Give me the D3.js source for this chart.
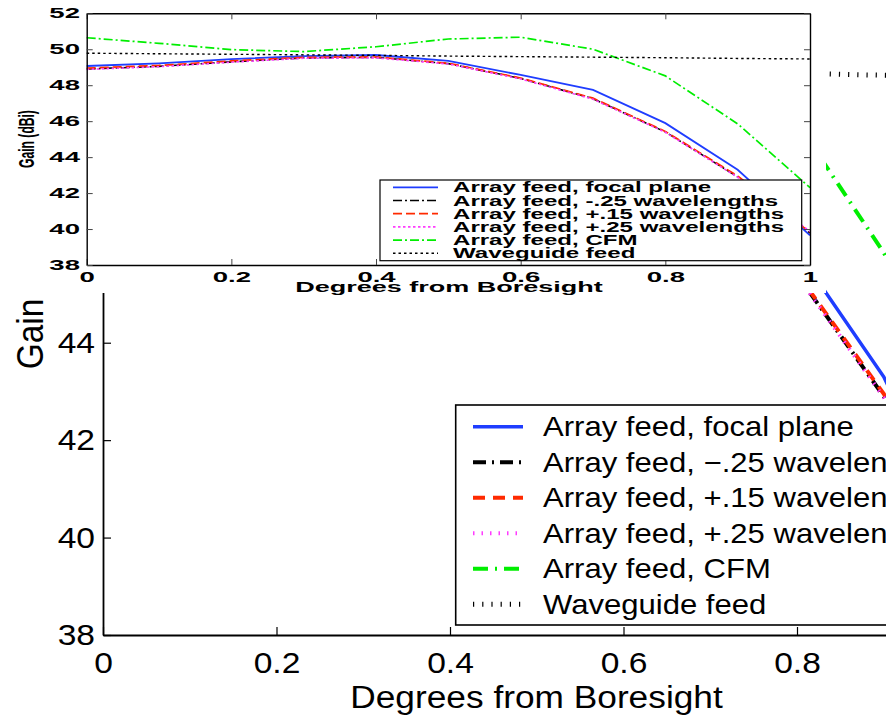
<!DOCTYPE html>
<html>
<head>
<meta charset="utf-8">
<script src="https://cdn.jsdelivr.net/npm/d3@7"></script>
<style>
  body { margin: 0; background: #fff; }
  svg { display: block; }
  text { font-family: "Liberation Sans", Arial, Helvetica, sans-serif; fill: #000; }
</style>
</head>
<body>
<svg id="chart" width="886" height="716"></svg>
<script>
// ---- data (gain in dBi vs degrees from boresight) ----
const DEGREES   = [0, 0.1, 0.2, 0.3, 0.4, 0.5, 0.6, 0.7, 0.8, 0.9, 1.0];
const FOCAL     = [49.07, 49.22, 49.45, 49.62, 49.68, 49.35, 48.57, 47.74, 45.89, 43.30, 39.65];
const MINUS_25  = [48.90, 49.05, 49.30, 49.52, 49.55, 49.20, 48.38, 47.25, 45.40, 42.90, 39.78];
const PLUS_15   = [48.95, 49.10, 49.35, 49.55, 49.57, 49.22, 48.40, 47.28, 45.43, 42.95, 39.82];
const PLUS_25   = [48.88, 49.03, 49.28, 49.50, 49.52, 49.18, 48.35, 47.22, 45.38, 42.88, 39.86];
const CFM       = [50.64, 50.33, 49.98, 49.87, 50.14, 50.57, 50.67, 50.00, 48.52, 45.85, 42.30];
const WAVEGUIDE = [49.78, 49.75, 49.72, 49.69, 49.66, 49.62, 49.59, 49.56, 49.53, 49.49, 49.46];

const LABELS_INSET = ['Array feed, focal plane', 'Array feed, -.25 wavelengths', 'Array feed, +.15 wavelengths',
                      'Array feed, +.25 wavelengths', 'Array feed, CFM', 'Waveguide feed'];
const LABELS_BIG   = ['Array feed, focal plane', 'Array feed, \u2212.25 wavelengths', 'Array feed, +.15 wavelengths',
                      'Array feed, +.25 wavelengths', 'Array feed, CFM', 'Waveguide feed'];
const X_TICKS = [0, 0.2, 0.4, 0.6, 0.8, 1];
const Y_TICKS = [38, 40, 42, 44, 46, 48, 50, 52];
// the big plot is cropped: only these tick labels show
const X_TICKS_BIG = [0, 0.2, 0.4, 0.6, 0.8];
const Y_TICKS_BIG = [38, 40, 42, 44];

const SERIES = [FOCAL, MINUS_25, PLUS_15, PLUS_25, CFM, WAVEGUIDE];

// line styles, same order as SERIES
const COLORS = ['#1f3dff', '#000000', '#ff2a00', '#ff3cff', '#00ee00', '#000000'];
const STYLE_BIG = [
  {w: 3.5, dash: null},
  {w: 4,   dash: '13,6,2,6'},
  {w: 4,   dash: '12,8'},
  {w: 4,   dash: '1.5,7'},
  {w: 4,   dash: '15,7,2,7'},
  {w: 5,   dash: '1.2,8'}
];
const STYLE_INSET = [
  {w: 1.8, dash: null},
  {w: 1.6, dash: '9,3,2,3'},
  {w: 1.7, dash: '9,4'},
  {w: 1.6, dash: '2.5,2.5'},
  {w: 1.7, dash: '9,3,2,3'},
  {w: 1.4, dash: '2.5,3'}
];

var svg = d3.select('#chart');

// ================= big chart (background) =================
var bx = d3.scaleLinear().domain([0, 1]).range([103, 970.5]);
var by = d3.scaleLinear().domain([38, 52]).range([635, -47]);
var big = svg.append('g');

var lineBig = d3.line().x((d, i) => bx(DEGREES[i])).y(d => by(d));

big.selectAll('path.bigline')
  .data(SERIES)
  .enter()
  .append('path')
  .attr('class', 'bigline')
  .attr('d', d => lineBig(d))
  .attr('fill', 'none')
  .attr('stroke', (d, i) => COLORS[i])
  .attr('stroke-width', (d, i) => STYLE_BIG[i].w)
  .attr('stroke-dasharray', (d, i) => STYLE_BIG[i].dash);

var bAxisB = big.append('g')
  .attr('transform', 'translate(0,635)')
  .call(d3.axisBottom(bx).tickValues(X_TICKS_BIG).tickSizeInner(-8).tickSizeOuter(0).tickPadding(17).tickFormat(d => String(d)));
var bAxisL = big.append('g')
  .attr('transform', 'translate(103,0)')
  .call(d3.axisLeft(by).tickValues(Y_TICKS_BIG).tickSizeInner(-8).tickSizeOuter(0).tickPadding(8));

[bAxisB, bAxisL].forEach(g => {
  g.attr('font-family', null).attr('font-size', null);
  g.select('.domain').attr('stroke-width', 1.8);
  g.selectAll('.tick line').attr('stroke-width', 1.2);
  g.selectAll('.tick text').style('font-size', '30px');
});
bAxisB.selectAll('.tick text').attr('transform', 'scale(1.12,1)');
bAxisL.selectAll('.tick text').attr('x', null).attr('transform', 'translate(-8,0) scale(1.12,1)');

big.append('text')
  .attr('transform', 'translate(536.5,708) scale(1.12,1)')
  .attr('text-anchor', 'middle')
  .style('font-size', '31.5px')
  .text('Degrees from Boresight');

big.append('text')
  .attr('transform', 'translate(42.7,294) scale(1.12,1) rotate(-90)')
  .attr('text-anchor', 'middle')
  .style('font-size', '33.5px')
  .text('Gain (dBi)');

// big legend
var bLeg = big.append('g');
bLeg.append('rect')
  .attr('x', 455.7).attr('y', 405).attr('width', 520).attr('height', 220)
  .attr('fill', '#fff').attr('stroke', '#000').attr('stroke-width', 1.6);
var bRows = bLeg.selectAll('g.row')
  .data(LABELS_BIG)
  .enter()
  .append('g')
  .attr('class', 'row')
  .attr('transform', (d, i) => 'translate(0,' + (426.7 + i * 35.5) + ')');
bRows.append('line')
  .attr('x1', 473).attr('x2', 523)
  .attr('stroke', (d, i) => COLORS[i])
  .attr('stroke-width', (d, i) => STYLE_BIG[i].w)
  .attr('stroke-dasharray', (d, i) => STYLE_BIG[i].dash);
bRows.append('text')
  .attr('transform', 'translate(543,0) scale(1.13,1)')
  .attr('dy', '0.35em')
  .style('font-size', '27.5px')
  .text(d => d);

// white backing of the inset figure
svg.append('rect')
  .attr('x', 0).attr('y', 0).attr('width', 826).attr('height', 293)
  .attr('fill', '#fff');

// ================= inset chart =================
var xi = d3.scaleLinear().domain([0, 1]).range([86.7, 810]);
var yi = d3.scaleLinear().domain([38, 52]).range([265, 13.3]);
var inset = svg.append('g');

var lineInset = d3.line().x((d, i) => xi(DEGREES[i])).y(d => yi(d));

inset.selectAll('path.insetline')
  .data(SERIES)
  .enter()
  .append('path')
  .attr('class', 'insetline')
  .attr('d', d => lineInset(d))
  .attr('fill', 'none')
  .attr('stroke', (d, i) => COLORS[i])
  .attr('stroke-width', (d, i) => STYLE_INSET[i].w)
  .attr('stroke-dasharray', (d, i) => STYLE_INSET[i].dash);

var iAxisB = inset.append('g').attr('transform', 'translate(0,265)')
  .call(d3.axisBottom(xi).tickValues(X_TICKS).tickSizeInner(-6).tickSizeOuter(0).tickPadding(6.5).tickFormat(d => String(d)));
var iAxisT = inset.append('g').attr('transform', 'translate(0,13.3)')
  .call(d3.axisTop(xi).tickValues(X_TICKS).tickSizeInner(-6).tickSizeOuter(0).tickFormat(''));
var iAxisL = inset.append('g').attr('transform', 'translate(86.7,0)')
  .call(d3.axisLeft(yi).tickValues(Y_TICKS).tickSizeInner(-6).tickSizeOuter(0));
var iAxisR = inset.append('g').attr('transform', 'translate(810,0)')
  .call(d3.axisRight(yi).tickValues(Y_TICKS).tickSizeInner(-6).tickSizeOuter(0).tickFormat(''));

[iAxisB, iAxisT, iAxisL, iAxisR].forEach(g => {
  g.attr('font-family', null).attr('font-size', null);
  g.select('.domain').attr('stroke-width', 1.4);
  g.selectAll('.tick line').attr('stroke', '#444');
  g.selectAll('.tick text').style('font-size', '14.5px').style('font-weight', 'bold');
});
iAxisB.selectAll('.tick text').attr('transform', 'scale(1.9,1)');
iAxisL.selectAll('.tick text').attr('x', null).attr('transform', 'translate(-6.7,0) scale(1.9,1)');

inset.append('text')
  .attr('transform', 'translate(449,291.7) scale(1.93,1)')
  .attr('text-anchor', 'middle')
  .style('font-size', '14px').style('font-weight', 'bold')
  .text('Degrees from Boresight');

inset.append('text')
  .attr('transform', 'translate(33.5,139) scale(1.9,1) rotate(-90)')
  .attr('text-anchor', 'middle')
  .style('font-size', '12.1px').style('font-weight', 'bold')
  .text('Gain (dBi)');

// inset legend
var iLeg = inset.append('g');
iLeg.append('rect')
  .attr('x', 380).attr('y', 180).attr('width', 421.7).attr('height', 80.7)
  .attr('fill', '#fff').attr('stroke', '#000').attr('stroke-width', 1.2);
var iRows = iLeg.selectAll('g.row')
  .data(LABELS_INSET)
  .enter()
  .append('g')
  .attr('class', 'row')
  .attr('transform', (d, i) => 'translate(0,' + (187.3 + i * 13.2) + ')');
iRows.append('line')
  .attr('x1', 393).attr('x2', 438)
  .attr('stroke', (d, i) => COLORS[i])
  .attr('stroke-width', (d, i) => STYLE_INSET[i].w)
  .attr('stroke-dasharray', (d, i) => STYLE_INSET[i].dash);
iRows.append('text')
  .attr('transform', 'translate(453,0) scale(1.72,1)')
  .attr('dy', '0.36em')
  .style('font-size', '14px').style('font-weight', 'bold')
  .text(d => d);
</script>
</body>
</html>
